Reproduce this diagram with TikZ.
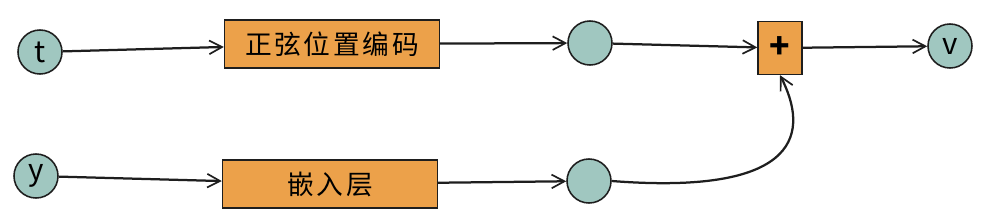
\documentclass[tikz,border=0pt]{standalone}
\usepackage{fontspec}
\setmainfont{Noto Sans CJK SC}
\newfontfamily\cjkfont[LetterSpace=10]{Noto Sans CJK SC}
\usetikzlibrary{arrows.meta,positioning,calc}

\definecolor{tealfill}{RGB}{160,199,192}
\definecolor{orangefill}{RGB}{236,161,74}
\definecolor{inkline}{RGB}{30,30,30}

\begin{document}
\begin{tikzpicture}[x=0.025cm, y=-0.025cm, every node/.style={font=\fontsize{19}{22}\selectfont},
  flow/.style={draw=inkline, line width=1.6pt, -{Straight Barb[length=3.2mm, width=3.4mm, line width=1.2pt]}},
  var/.style={circle, draw=inkline, line width=1.1pt, fill=tealfill, minimum size=1.1cm, inner sep=0pt, font=\fontsize{21}{24}\selectfont},
  layer/.style={rectangle, draw=inkline, line width=1.1pt, fill=orangefill, minimum width=5.37cm, minimum height=1.2cm, inner sep=0pt},
  addbox/.style={rectangle, draw=inkline, line width=1.1pt, fill=orangefill, minimum width=1.1cm, minimum height=1.32cm, inner sep=0pt, font=\fontsize{24}{26}\selectfont\bfseries}
]
  \useasboundingbox (0,0) rectangle (982,212);

  % Eingaenge
  \node[var] (t) at (40,52) {t};
  \node[var] (y) at (36,176) {y};

  % Schichten
  \node[layer] (pe) at (332,44) {\cjkfont 正弦位置编码};
  \node[layer] (emb) at (330,184) {\cjkfont 嵌入层};

  % Zwischenwerte
  \node[var] (h1) at (590,43) {};
  \node[var] (h2) at (589,181) {};

  % Summe und Ausgang
  \node[addbox] (add) at (780,48) {+};
  \node[var] (v) at (950,46) {v};

  % Verbindungen
  \draw[flow] (t) -- (pe);
  \draw[flow] (pe) -- (h1);
  \draw[flow] (h1) -- (add);
  \draw[flow] (add) -- (v);
  \draw[flow] (y) -- (emb);
  \draw[flow] (emb) -- (h2);
  \draw[flow] (h2.east) .. controls (805,196) and (808,130) .. (add.south);
\end{tikzpicture}
\end{document}
